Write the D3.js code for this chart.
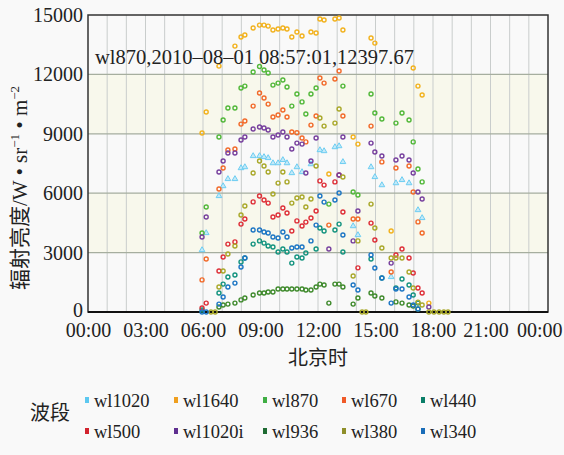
<!DOCTYPE html>
<html>
<head>
<meta charset="utf-8">
<script src="https://cdn.jsdelivr.net/npm/d3@7"></script>
<style>
  body { margin: 0; background: #f9f9f9; }
  svg text { font-family: "Liberation Serif", "Noto Sans CJK SC", serif; fill: #222; }
</style>
</head>
<body>
<svg id="chart"></svg>
<script>
const _ = null;

// observation times (Beijing time)
const times = [
  "05:57", "06:10", "06:25", "06:38", "06:50", "07:03", "07:18", "07:40", "07:59", "08:11",
  "08:37", "08:57", "09:11", "09:24", "09:39", "09:55", "10:10", "10:23", "10:38", "10:54",
  "11:10", "11:22", "11:38", "11:54", "12:06", "12:19", "12:34", "12:53", "13:06", "13:18",
  "13:50", "14:05", "14:18", "14:30", "14:46", "14:58", "15:20", "15:49", "16:04", "16:23",
  "16:45", "16:58", "17:13", "17:26", "17:47", "18:03", "18:19", "18:34", "18:47"
];

const wl1020 = [
  3130, 3990, _, _, 5860, 6360, 6720, 6720, 7270, 7320,
  7880, 7880, 7830, 7780, 7520, 7520, 7680, 7520, 7020, 7320,
  7070, _, 7470, _, 8180, 8130, _, 8330, 8380, 7580,
  4340, 3890, _, _, 7320, 6820, 6410, 1770, 6510, 6670,
  6510, _, 5150, 4750, _, _, _, _, _
];
const wl1640 = [
  9040, 10100, _, _, 12420, _, _, 13430, 13890, 13990,
  14340, 14490, 14490, 14440, 14240, 14290, 14340, 14290, 13890, 14140,
  13940, _, 14140, 14090, 14800, 14750, 6970, 14800, 14850, 14240,
  8840, 8480, _, _, 13840, 13580, _, 4090, _, _,
  _, 12320, 11410, 10960, 450, _, _, _, _
];
const wl870 = [
  3990, 5300, _, _, 8840, 9700, 10300, 10300, 11310, 11410,
  12120, 12397.67, 12220, 12070, 11460, 11560, 11720, 11360, 10400, 11010,
  10610, 10000, 11010, 11310, _, _, 5450, _, _, 11410,
  6060, 5910, _, _, 11010, 10050, 9750, _, 9540, 10050,
  9700, 8590, 7220, 6570, _, _, _, _, _
];
const wl670 = [
  1620, 2680, _, _, 6210, 7270, 8180, 8230, 9490, 9650,
  10400, 11060, 10810, 10500, 9850, 9950, 10200, 9850, 9090, 9050,
  8790, 8590, 9440, 9900, 11820, 11560, 4390, 11770, 12170, 9900,
  4700, 4700, _, _, 9390, _, 7580, 2020, 7270, _,
  7370, 6060, 4550, 3990, _, _, _, _, _
];
const wl440 = [
  100, _, _, _, 960, 1410, 1770, 1870, 2530, 2730,
  3430, 3590, 3480, 3330, 3280, 3030, 3180, 3030, 2470, 2780,
  2730, 2980, _, 3180, 4240, 4090, _, 4140, 4440, 3030,
  _, _, _, _, 2680, _, 1720, _, 1210, 1670,
  1360, 860, 450, _, _, _, _, _, _
];
const wl500 = [
  200, 450, _, _, 2070, 2780, 3430, 3540, 4440, 4700,
  5560, 5860, 5660, 5500, 4800, 4900, 5250, 5000, 4090, 4600,
  4340, 4540, 4750, 5100, 6620, 6410, _, 6570, 6920, 5050,
  _, 2230, _, _, 4490, 3640, _, _, 2880, 3180,
  2730, 1970, 1210, 960, _, _, _, _, _
];
const wl1020i = [
  3790, 4800, _, _, 7070, 7630, 8030, 8030, 8690, 8840,
  9240, 9340, 9290, 9190, 8840, 8940, 9090, 8840, 8230, 8530,
  8480, 7020, 7630, 8790, _, _, 3180, _, 6920, 8840,
  3590, 5100, _, _, 8530, 8080, 7880, 2470, 7680, 7880,
  7680, 7020, 6060, 5710, 250, _, _, _, _
];
const wl936 = [
  _, _, _, _, 250, 350, 400, 450, 610, 710,
  860, 960, 960, 1010, 1010, 1160, 1160, 1160, 1160, 1160,
  1160, 1110, 1110, 1260, 1410, 1360, 450, 1410, 1410, 1260,
  400, 710, _, _, 960, 810, 710, _, 510, 450,
  350, 300, 150, _, _, _, _, _, _
];
const wl380 = [
  _, _, 0, 0, 1260, 2070, 2930, 3330, 4900, 5350,
  7020, 7630, 7370, 7070, 5960, 6510, 7070, 6570, 5500, 5760,
  5810, 5300, 5710, 7370, 9800, 9390, _, 9540, 10250, 6820,
  1820, 3590, 0, 0, 5450, 4240, 3230, 2730, 2730, 2730,
  2020, 1210, 500, 350, 0, 0, 0, 0, 0
];
const wl340 = [
  0, 0, _, _, 400, 760, 1260, 1460, 2270, 2730,
  4140, 4140, 4040, 3990, 3790, 3740, 4040, 3790, 3230, 3280,
  3280, _, 3590, 4390, 5860, 5550, _, 5660, 6010, 3890,
  1360, 1110, _, _, 2880, 2220, 1720, 450, 1160, 1160,
  760, 350, 150, _, _, _, _, _, _
];

const yTicks = [0, 3000, 6000, 9000, 12000, 15000];
const xTicks = [0, 3, 6, 9, 12, 15, 18, 21, 24];
const xLabels = ["00:00", "03:00", "06:00", "09:00", "12:00", "15:00", "18:00", "21:00", "00:00"];
const note = "wl870,2010–08–01 08:57:01,12397.67";

// legend order: two rows of five
const series = [
  { name: "wl1020", values: wl1020, color: "#6ccdf2", tri: true },
  { name: "wl1640", values: wl1640, color: "#f2b21e" },
  { name: "wl870", values: wl870, color: "#52b83a" },
  { name: "wl670", values: wl670, color: "#f26a2a" },
  { name: "wl440", values: wl440, color: "#13937f" },
  { name: "wl500", values: wl500, color: "#de2f38" },
  { name: "wl1020i", values: wl1020i, color: "#77409e" },
  { name: "wl936", values: wl936, color: "#3f8a2c" },
  { name: "wl380", values: wl380, color: "#a9a82a" },
  { name: "wl340", values: wl340, color: "#1d76c4" }
];
const legendSwatch = {
  wl1020: "#5cc8f0", wl1640: "#ef9f1f", wl870: "#3fae44", wl670: "#f05a28", wl440: "#0a7e68",
  wl500: "#d2232e", wl1020i: "#5f2f90", wl936: "#1f6b33", wl380: "#8f8f2a", wl340: "#1a6db8"
};

const hours = times.map(t => {
  const [h, m] = t.split(":").map(Number);
  return h + m / 60;
});

const width = 564, height = 455;
const margin = { top: 15, right: 16, bottom: 143, left: 88 };

const svg = d3.select("#chart").attr("width", width).attr("height", height);
svg.append("rect").attr("width", width).attr("height", height).attr("fill", "#f9f9f9");

const x = d3.scaleLinear().domain([0, 24]).range([margin.left, width - margin.right]);
const y = d3.scaleLinear().domain([0, 15000]).range([height - margin.bottom, margin.top]);

// alternating bands
svg.append("g").selectAll("rect")
  .data(d3.pairs(yTicks))
  .join("rect")
  .attr("x", x(0))
  .attr("y", d => y(d[1]))
  .attr("width", x(24) - x(0))
  .attr("height", d => y(d[0]) - y(d[1]))
  .attr("fill", (d, i) => i % 2 ? "#f8f8ec" : "#f9f9f9");

// hourly vertical grid
svg.append("g").selectAll("line")
  .data(d3.range(1, 24))
  .join("line")
  .attr("x1", d => x(d)).attr("x2", d => x(d))
  .attr("y1", y(15000)).attr("y2", y(0))
  .attr("stroke", "#c9cdcc").attr("stroke-width", 1);

// horizontal grid
svg.append("g").selectAll("line")
  .data(yTicks.slice(1, -1))
  .join("line")
  .attr("x1", x(0)).attr("x2", x(24))
  .attr("y1", d => y(d)).attr("y2", d => y(d))
  .attr("stroke", "#a6ae9f").attr("stroke-width", 1.3);

// frame
svg.append("rect")
  .attr("x", x(0)).attr("y", y(15000))
  .attr("width", x(24) - x(0)).attr("height", y(0) - y(15000))
  .attr("fill", "none").attr("stroke", "#333").attr("stroke-width", 1.5);
svg.append("line")
  .attr("x1", x(0)).attr("x2", x(24)).attr("y1", y(0)).attr("y2", y(0))
  .attr("stroke", "#111").attr("stroke-width", 2);

// axes
const yAxis = svg.append("g")
  .attr("transform", `translate(${x(0)},0)`)
  .call(d3.axisLeft(y).tickValues(yTicks).tickFormat(d3.format("d")).tickSize(0).tickPadding(5));
yAxis.select(".domain").remove();
yAxis.selectAll("text").attr("font-size", "20px").attr("font-family", null).attr("fill", "#222");
yAxis.selectAll("text").filter(d => d === 0).attr("dy", "0.2em");

const xAxis = svg.append("g")
  .attr("transform", `translate(0,${y(0)})`)
  .call(d3.axisBottom(x).tickValues(xTicks).tickFormat((d, i) => xLabels[i]).tickSize(0).tickPadding(11));
xAxis.select(".domain").remove();
xAxis.selectAll("text").attr("font-size", "20px").attr("font-family", null).attr("fill", "#222");
// last labels squeezed in toward the right edge, as in the original
xAxis.selectAll("text").filter(d => d === 21).attr("dx", -5);
xAxis.selectAll("text").filter(d => d === 24).attr("text-anchor", "end").attr("dx", 14);

// points
const pts = svg.append("g");
series.forEach(s => {
  const data = s.values.map((v, i) => ({ t: hours[i], v })).filter(d => d.v !== null);
  if (s.tri) {
    pts.append("g").selectAll("path")
      .data(data)
      .join("path")
      .attr("d", d3.symbol(d3.symbolTriangle, 14))
      .attr("transform", d => `translate(${x(d.t)},${y(d.v)})`)
      .attr("fill", "#c4e9f8")
      .attr("stroke", s.color)
      .attr("stroke-width", 1);
  } else {
    pts.append("g").selectAll("circle")
      .data(data)
      .join("circle")
      .attr("cx", d => x(d.t))
      .attr("cy", d => y(d.v))
      .attr("r", 2)
      .attr("fill", "none")
      .attr("stroke", s.color)
      .attr("stroke-width", 1.4);
  }
});

// annotation
svg.append("text")
  .attr("x", 95).attr("y", 64)
  .attr("font-size", "20.5px")
  .text(note);

// axis titles
svg.append("text")
  .attr("x", (x(0) + x(24)) / 2).attr("y", 365)
  .attr("text-anchor", "middle")
  .attr("font-size", "20px")
  .text("北京时");

const yt = svg.append("text")
  .attr("transform", "translate(27,188) rotate(-90)")
  .attr("text-anchor", "middle")
  .attr("font-size", "21px");
yt.append("tspan").text("辐射亮度/W • sr");
yt.append("tspan").attr("dy", -8).attr("font-size", "13px").text("−1");
yt.append("tspan").attr("dy", 8).text(" • m");
yt.append("tspan").attr("dy", -8).attr("font-size", "13px").text("−2");

// legend
svg.append("text")
  .attr("x", 30).attr("y", 420)
  .attr("font-size", "20px")
  .text("波段");

const legendCols = [87, 176, 265, 344, 423];
const legendRows = [400, 431];
const lg = svg.append("g").selectAll("g")
  .data(series)
  .join("g")
  .attr("transform", (d, i) => `translate(${legendCols[i % 5]},${legendRows[Math.floor(i / 5)]})`);
lg.append("rect")
  .attr("x", -2).attr("y", -3).attr("width", 4).attr("height", 6)
  .attr("fill", d => legendSwatch[d.name]);
lg.append("text")
  .attr("x", 7).attr("y", 6.5)
  .attr("font-size", "18.5px")
  .text(d => d.name);
</script>
</body>
</html>
